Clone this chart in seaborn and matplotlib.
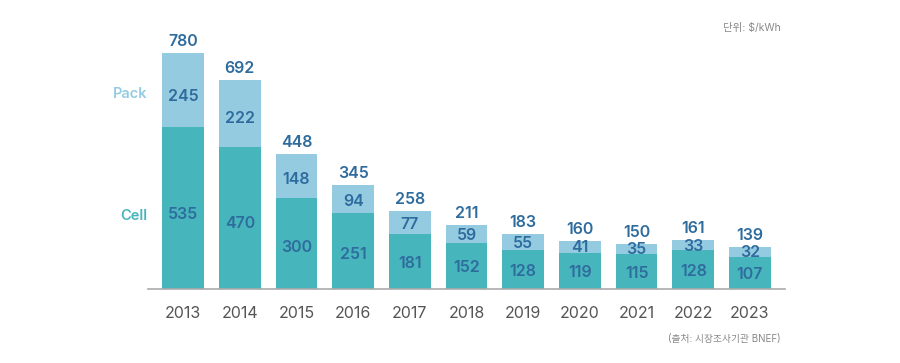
import matplotlib
matplotlib.use("Agg")
import matplotlib.pyplot as plt
import seaborn as sns
import pandas as pd
import numpy as np

years = ["2013", "2014", "2015", "2016", "2017", "2018", "2019", "2020", "2021", "2022", "2023"]
cell = [535, 470, 300, 251, 181, 152, 128, 119, 115, 128, 107]
pack = [245, 222, 148, 94, 77, 59, 55, 41, 35, 33, 32]
total = [780, 692, 448, 345, 258, 211, 183, 160, 150, 161, 139]

sns.set_theme(style="white")
plt.rcParams['font.family'] = ['Inter', 'Noto Sans CJK KR', 'DejaVu Sans']

CELL_C = "#46B6BC"
PACK_C = "#94CBE1"
NUM_C = "#2F6C9E"
NUMFONT = dict(fontsize=11.5, fontweight=600, color=NUM_C)

fig = plt.figure(figsize=(9, 3.63), dpi=100)
ax = fig.add_axes([148/900, 74/363, 637/900, 257/363])

df = pd.DataFrame({"year": years, "cell": cell, "pack": pack, "total": total})

sns.barplot(data=df, x="year", y="total", color=PACK_C, width=0.74, ax=ax,
            saturation=1, edgecolor="none")
sns.barplot(data=df, x="year", y="cell", color=CELL_C, width=0.74, ax=ax,
            saturation=1, edgecolor="none")

for i in range(len(years)):
    ax.text(i, cell[i] * 0.46, str(cell[i]), ha="center", va="center", **NUMFONT)
    ax.text(i, cell[i] + pack[i] * 0.42, str(pack[i]), ha="center", va="center", **NUMFONT)
    ax.text(i, total[i] + 13, str(total[i]), ha="center", va="bottom", **NUMFONT)

ax.set_xlim(-0.62, 10.62)
ax.set_ylim(0, 850)
ax.set_xlabel("")
ax.set_ylabel("")
ax.set_yticks([])
for s in ["top", "right", "left"]:
    ax.spines[s].set_visible(False)
ax.spines["bottom"].set_color("#AAAAAA")
ax.spines["bottom"].set_linewidth(1.2)
ax.tick_params(axis="x", length=0, pad=12, labelsize=11.5, labelcolor="#555555")

fig.text(147/900, 1 - 94/363, "Pack", ha="right", va="center", color=PACK_C,
         fontsize=10.5, fontweight=600)
fig.text(147/900, 1 - 216/363, "Cell", ha="right", va="center", color=CELL_C,
         fontsize=10.5, fontweight=600)
fig.text(781/900, 1 - 28/363, "단위: $/kWh", ha="right", va="center", color="#888888",
         fontsize=7.5)
fig.text(781/900, 1 - 339/363, "(출처: 시장조사기관 BNEF)", ha="right", va="center",
         color="#888888", fontsize=7)

fig.savefig("out.png", dpi=100)
